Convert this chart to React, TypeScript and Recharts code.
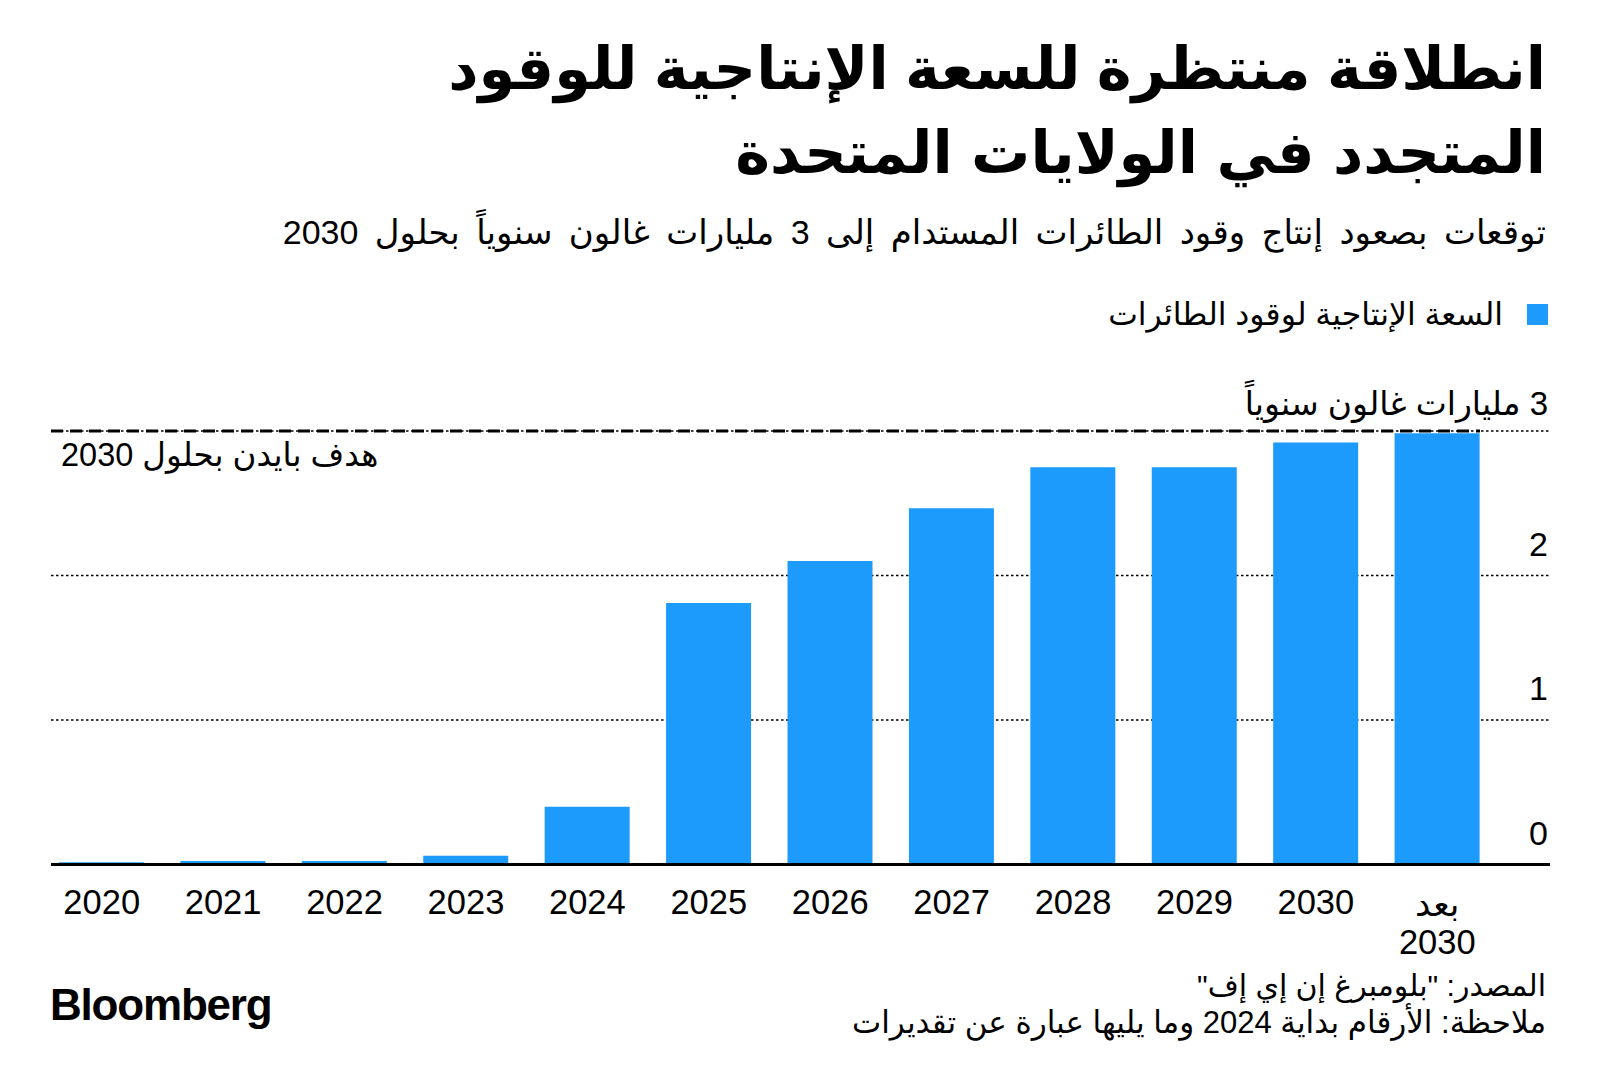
import React from 'react';
import { ComposedChart, Bar, XAxis, YAxis, CartesianGrid, ReferenceLine } from 'recharts';

const years = ['2020', '2021', '2022', '2023', '2024', '2025', '2026', '2027', '2028', '2029', '2030', 'بعد 2030'];
const capacity = [0.015, 0.025, 0.025, 0.06, 0.4, 1.81, 2.1, 2.465, 2.75, 2.75, 2.92, 2.985];
const yTicks = [0, 1, 2, 3];
const yTickLabels = ['0', '1', '2', '3 مليارات غالون سنوياً'];

const title = ['انطلاقة منتظرة للسعة الإنتاجية للوقود', 'المتجدد في الولايات المتحدة'];
const subtitle = 'توقعات بصعود إنتاج وقود الطائرات المستدام إلى 3 مليارات غالون سنوياً بحلول 2030';
const legendLabel = 'السعة الإنتاجية لوقود الطائرات';
const targetLabel = 'هدف بايدن بحلول 2030';
const sourceText = 'المصدر: "بلومبرغ إن إي إف"';
const noteText = 'ملاحظة: الأرقام بداية 2024 وما يليها عبارة عن تقديرات';

const data = years.map((year, i) => ({ year, value: capacity[i] }));

const FONT = "'Liberation Sans', 'DejaVu Sans', sans-serif";
const BLUE = '#1d9bfc';
const RLM = '\u200F';

const XTick = (props: any) => {
  const { x, y, payload } = props;
  const parts = String(payload.value).split(' ');
  return (
    <g>
      {parts.map((p: string, i: number) => (
        <text
          key={i}
          x={x}
          y={y + (parts.length > 1 ? 39 : 37.5) + i * 38}
          textAnchor="middle"
          dominantBaseline="central"
          fontSize={34.5}
          fontFamily={FONT}
          fill="#000"
        >
          {p}
        </text>
      ))}
    </g>
  );
};

const YTick = (props: any) => {
  const { y, payload } = props;
  const idx = yTicks.indexOf(payload.value);
  const label = idx >= 0 ? yTickLabels[idx] : String(payload.value);
  const isLong = label.length > 2;
  return (
    <text
      x={1548}
      y={y - (isLong ? 28 : 32)}
      textAnchor="end"
      dominantBaseline="central"
      fontSize={isLong ? 33 : 34}
      fontFamily={FONT}
      fill="#000"
    >
      {RLM + label}
    </text>
  );
};

const TargetLine = (props: any) => {
  const { x1, y1, x2 } = props;
  const left = Math.min(x1, x2);
  const right = Math.max(x1, x2);
  return (
    <g>
      <line x1={left} y1={y1} x2={right - 70} y2={y1} stroke="#000" strokeWidth={3} strokeDasharray="12 7" />
      <text
        x={left + 10}
        y={y1 + 24}
        textAnchor="start"
        dominantBaseline="central"
        fontSize={32.5}
        fontFamily={FONT}
        fill="#000"
      >
        {RLM + targetLabel}
      </text>
    </g>
  );
};

const textBase: React.CSSProperties = {
  position: 'absolute',
  right: 54,
  direction: 'rtl',
  textAlign: 'right',
  fontFamily: FONT,
  color: '#000',
  whiteSpace: 'nowrap',
};

export default function App() {
  return (
    <div style={{ position: 'absolute', left: 0, top: 0, width: 1600, height: 1084, background: '#fff', overflow: 'hidden' }}>
      <div style={{ ...textBase, top: 27, fontSize: 59, fontWeight: 700, lineHeight: '84px' }}>
        {title.map((t, i) => (
          <div key={i} style={{ wordSpacing: i === 1 ? 2 : 0 }}>{t}</div>
        ))}
      </div>
      <div style={{ ...textBase, top: 211, fontSize: 34, lineHeight: '42px', wordSpacing: 7 }}>{subtitle}</div>
      <div style={{ position: 'absolute', left: 1527, top: 304, width: 21, height: 21, background: BLUE }} />
      <div style={{ ...textBase, right: 97, top: 293, fontSize: 31.5, lineHeight: '42px' }}>{legendLabel}</div>

      <div style={{ position: 'absolute', left: 0, top: 0 }}>
        <ComposedChart
          width={1600}
          height={1084}
          data={data}
          margin={{ top: 431, right: 50, bottom: 159.5, left: 51 }}
        >
          <CartesianGrid vertical={false} stroke="#000" strokeWidth={1.3} strokeDasharray="2.5 2.5" />
          <XAxis
            dataKey="year"
            type="category"
            height={60}
            axisLine={false}
            tickLine={false}
            tickSize={0}
            tickMargin={0}
            interval={0}
            padding={{ left: -10, right: 52 }}
            tick={<XTick />}
          />
          <YAxis
            orientation="right"
            mirror
            width={60}
            domain={[0, 3]}
            ticks={yTicks}
            axisLine={false}
            tickLine={false}
            tickSize={0}
            tickMargin={0}
            interval={0}
            tick={<YTick />}
          />
          <Bar dataKey="value" fill={BLUE} barSize={85} isAnimationActive={false} />
          <ReferenceLine y={3} shape={<TargetLine />} />
          <ReferenceLine y={0} stroke="#000" strokeWidth={3} />
        </ComposedChart>
      </div>

      <div style={{ ...textBase, top: 965, fontSize: 30, lineHeight: '42px' }}>{sourceText}</div>
      <div style={{ ...textBase, top: 1002, fontSize: 31, lineHeight: '42px' }}>{noteText}</div>
      <div
        style={{
          position: 'absolute',
          left: 50,
          top: 982,
          fontFamily: "'Liberation Sans', Arial, sans-serif",
          fontWeight: 700,
          fontSize: 44,
          lineHeight: '46px',
          letterSpacing: -1.2,
          color: '#000',
        }}
      >
        Bloomberg
      </div>
    </div>
  );
}
